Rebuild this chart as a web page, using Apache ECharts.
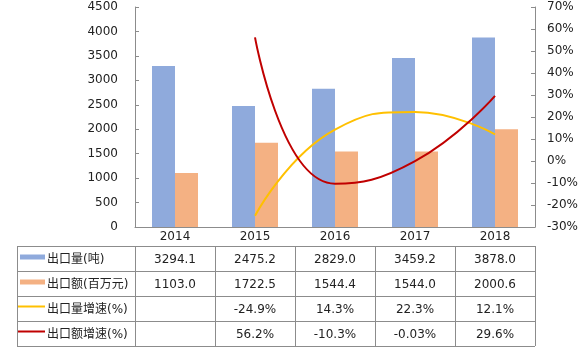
<!DOCTYPE html>
<html>
<head>
<meta charset="utf-8">
<script src="https://cdn.jsdelivr.net/npm/echarts@6/dist/echarts.min.js"></script>
<style>
  html, body { margin: 0; padding: 0; background: #fff; }
  #chart { width: 584px; height: 351px; }
</style>
</head>
<body>
<div id="chart"></div>
<script>
  // 数据
  const years = ['2014', '2015', '2016', '2017', '2018'];
  const exportVolume = [3294.1, 2475.2, 2829.0, 3459.2, 3878.0];
  const exportValue = [1103.0, 1722.5, 1544.4, 1544.0, 2000.6];
  const volumeGrowth = [null, -24.9, 14.3, 22.3, 12.1];
  const valueGrowth = [null, 56.2, -10.3, -0.03, 29.6];
  const rowNames = ['出口量(吨)', '出口额(百万元)', '出口量增速(%)', '出口额增速(%)'];

  const FONT = "'DejaVu Sans', 'Noto Sans CJK SC', sans-serif";
  const colors = ['#8FAADC', '#F4B183', '#FFC000', '#C00000'];
  const lineColor = '#8c8c8c';

  const pct = v => (v == null ? '' : v + '%');
  const rowTexts = [
    exportVolume.map(v => v.toFixed(1)),
    exportValue.map(v => v.toFixed(1)),
    volumeGrowth.map(pct),
    valueGrowth.map(pct)
  ];

  const grid = { left: 135, right: 49, top: 7, bottom: 124 };
  const tableLeft = 17;
  const headerBottom = 246;
  const rowH = 25;

  let chart = echarts.init(document.getElementById('chart'));
  chart.setOption({
    animation: false,
    grid: grid,
    xAxis: {
      type: 'category',
      data: years,
      axisLine: { lineStyle: { color: lineColor } },
      axisTick: { length: 19, lineStyle: { color: lineColor } },
      axisLabel: { margin: 4, fontSize: 12, color: '#222', fontFamily: FONT }
    },
    yAxis: [{
      type: 'value',
      min: 0,
      max: 4500,
      interval: 500,
      splitLine: { show: false },
      axisLine: { show: true, lineStyle: { color: lineColor } },
      axisTick: { show: true, inside: true, length: 4, lineStyle: { color: lineColor } },
      axisLabel: { margin: 17, fontSize: 12, color: '#222', fontFamily: FONT, formatter: v => String(v) }
    }, {
      type: 'value',
      min: -30,
      max: 70,
      interval: 10,
      splitLine: { show: false },
      axisLine: { show: true, lineStyle: { color: lineColor } },
      axisTick: { show: true, inside: true, length: 4, lineStyle: { color: lineColor } },
      axisLabel: { margin: 12, fontSize: 12, color: '#222', fontFamily: FONT, formatter: '{value}%' }
    }],
    series: [{
      type: 'bar',
      name: rowNames[0],
      data: exportVolume,
      barWidth: 23,
      barGap: '0%',
      itemStyle: { color: colors[0] }
    }, {
      type: 'bar',
      name: rowNames[1],
      data: exportValue,
      barWidth: 23,
      itemStyle: { color: colors[1] }
    }, {
      type: 'line',
      name: rowNames[2],
      yAxisIndex: 1,
      data: volumeGrowth,
      smooth: 0.5,
      showSymbol: false,
      lineStyle: { width: 2, color: colors[2] }
    }, {
      type: 'line',
      name: rowNames[3],
      yAxisIndex: 1,
      data: valueGrowth,
      smooth: 0.5,
      showSymbol: false,
      lineStyle: { width: 2, color: colors[3] }
    }]
  });

  // 数据表
  const plotLeft = grid.left;
  const plotRight = 584 - grid.right;
  const colW = (plotRight - plotLeft) / years.length;
  const tableBottom = headerBottom + rowH * rowNames.length;
  const lineStyle = { stroke: lineColor, lineWidth: 1 };
  let graphic = [];

  // 横线
  for (let r = 0; r <= rowNames.length; r++) {
    let y = headerBottom + r * rowH + 0.5;
    graphic.push({ type: 'line', shape: { x1: tableLeft, y1: y, x2: plotRight, y2: y }, style: lineStyle, silent: true });
  }
  // 竖线
  graphic.push({ type: 'line', shape: { x1: tableLeft + 0.5, y1: headerBottom, x2: tableLeft + 0.5, y2: tableBottom }, style: lineStyle, silent: true });
  for (let c = 0; c <= years.length; c++) {
    let x = Math.round(plotLeft + c * colW) + 0.5;
    graphic.push({ type: 'line', shape: { x1: x, y1: headerBottom, x2: x, y2: tableBottom }, style: lineStyle, silent: true });
  }

  rowNames.forEach((name, r) => {
    let cy = headerBottom + r * rowH + rowH / 2 + 1;
    // 图例标记
    if (r < 2) {
      graphic.push({ type: 'rect', shape: { x: 20, y: cy - 5, width: 25, height: 5 }, style: { fill: colors[r] }, silent: true });
    } else {
      graphic.push({ type: 'line', shape: { x1: 18, y1: cy - 3, x2: 45, y2: cy - 3 }, style: { stroke: colors[r], lineWidth: 2 }, silent: true });
    }
    graphic.push({
      type: 'text', x: 47, y: cy, silent: true,
      style: { text: name, font: '12px ' + FONT, fill: '#222', verticalAlign: 'middle', align: 'left' }
    });
    rowTexts[r].forEach((t, c) => {
      let cx = chart.convertToPixel({ xAxisIndex: 0 }, years[c]);
      graphic.push({
        type: 'text', x: cx, y: cy, silent: true,
        style: { text: t, font: '12px ' + FONT, fill: '#222', verticalAlign: 'middle', align: 'center' }
      });
    });
  });

  chart.setOption({ graphic: graphic });
</script>
</body>
</html>
